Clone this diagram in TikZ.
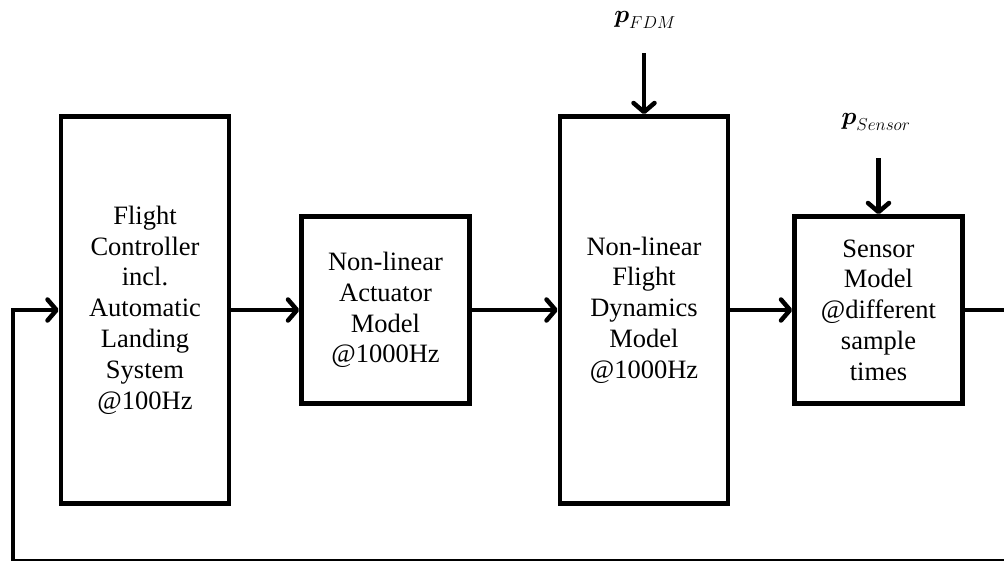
\documentclass[tikz,border=0pt]{standalone}
\usepackage{fontspec}
\setmainfont{Liberation Serif}
\usepackage{amsmath}
\usepackage{amssymb}
\usetikzlibrary{arrows.meta, positioning, calc}

\begin{document}
\begin{tikzpicture}[x=1pt,y=-1pt,->,>={Straight Barb[length=9pt,width=21pt,round]},line width=4.5pt,node distance=68pt]
  \tikzstyle{block}=[draw=black,fill=white,text=black,align=center,inner sep=2pt,minimum width=168pt,font=\fontsize{26.5}{30.8}\selectfont]
  \tikzstyle{param}=[font=\fontsize{23}{26}\selectfont]
  \useasboundingbox (0,0) rectangle (1004,560);

  \node[block,minimum height=387pt] (fc) at (145,310) {Flight\\Controller\\incl.\\Automatic\\Landing\\System\\@100Hz};
  \node[block,minimum height=187pt] (act) [right=68pt of fc] {Non-linear\\Actuator\\Model\\@1000Hz};
  \node[block,minimum height=387pt] (fdm) [right=86pt of act] {Non-linear\\Flight\\Dynamics\\Model\\@1000Hz};
  \node[block,minimum height=187pt] (sens) [right=62pt of fdm] {Sensor\\Model\\@different\\sample\\times};

  % external parameters
  \node[param] (pfdm) at (645,20) {$\boldsymbol{p}_{FDM}$};
  \node[param] (psens) at (876,122) {$\boldsymbol{p}_{Sensor}$};
  \coordinate (fdmin) at ([yshift=61pt]fdm.north);
  \coordinate (sensin) at ([yshift=56pt]sens.north);

  \path (fc) edge (act)
        (act) edge (fdm)
        (fdm) edge (sens)
        (fdmin) edge (fdm.north)
        (sensin) edge (sens.north);

  % feedback loop
  \coordinate (fbr) at (1015,561);
  \coordinate (fbl) at (13,561);
  \draw (sens.east) -| (fbr) -- (fbl) |- (fc.west);
\end{tikzpicture}
\end{document}
